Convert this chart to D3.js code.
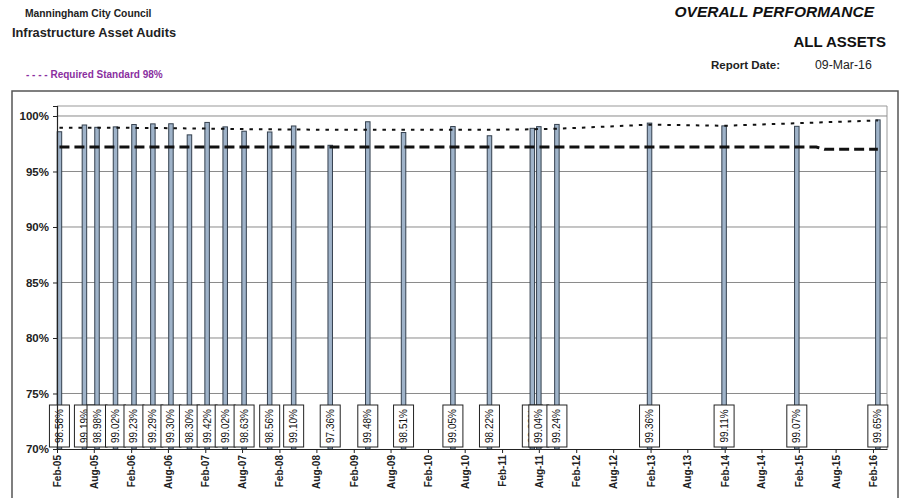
<!DOCTYPE html>
<html>
<head>
<meta charset="utf-8">
<script src="https://cdn.jsdelivr.net/npm/d3@7"></script>
<style>
  html, body { margin: 0; padding: 0; background: #fff; }
  svg { display: block; font-family: "Liberation Sans", Arial, sans-serif; }
</style>
</head>
<body>
<svg id="chart" width="903" height="498"></svg>
<script>
// Audit dates and overall condition score (%) for each audit
const auditDates = [
  "2005-02-13", "2005-06-16", "2005-08-17", "2005-11-16", "2006-02-15",
  "2006-05-19", "2006-08-16", "2006-11-15", "2007-02-10", "2007-05-10",
  "2007-08-11", "2007-12-15", "2008-04-11", "2008-10-08", "2009-04-11",
  "2009-10-04", "2010-06-04", "2010-12-01", "2011-06-30", "2011-08-01",
  "2011-10-29", "2013-01-27", "2014-01-29", "2015-01-22", "2016-02-25"
];
const auditScores = [
  98.58, 99.19, 98.98, 99.02, 99.23,
  99.29, 99.30, 98.30, 99.42, 99.02,
  98.63, 98.56, 99.10, 97.36, 99.48,
  98.51, 99.05, 98.22, 98.89, 99.04,
  99.24, 99.36, 99.11, 99.07, 99.65
];
// Dotted trend line, one value per audit
const trendValues = [
  98.95, 98.95, 98.95, 98.95, 98.93,
  98.92, 98.90, 98.88, 98.86, 98.84,
  98.82, 98.80, 98.78, 98.76, 98.75,
  98.75, 98.75, 98.76, 98.80, 98.82,
  98.85, 99.22, 99.12, 99.35, 99.60
];
// Heavy dashed reference line
const refDates = ["2005-02-13", "2015-04-28", "2015-06-07", "2016-02-25"];
const refValues = [97.2, 97.2, 97.0, 97.0];

// Axis tick labels
const xTickLabels = [
  "Feb-05", "Aug-05", "Feb-06", "Aug-06", "Feb-07", "Aug-07", "Feb-08", "Aug-08",
  "Feb-09", "Aug-09", "Feb-10", "Aug-10", "Feb-11", "Aug-11", "Feb-12", "Aug-12",
  "Feb-13", "Aug-13", "Feb-14", "Aug-14", "Feb-15", "Aug-15", "Feb-16"
];
const yTicks = [70, 75, 80, 85, 90, 95, 100];

const parseDay = d3.timeParse("%Y-%m-%d");
const parseTick = d3.timeParse("%b-%y");

const audits = auditDates.map((d, i) => ({ date: parseDay(d), value: auditScores[i], trend: trendValues[i] }));
const refLine = refDates.map((d, i) => ({ date: parseDay(d), value: refValues[i] }));
const xTickDates = xTickLabels.map(parseTick);

const svg = d3.select("#chart");

// Outer frame
svg.append("rect")
  .attr("x", 12).attr("y", 91).attr("width", 886).attr("height", 430)
  .attr("fill", "none").attr("stroke", "#555").attr("stroke-width", 1.5);

// Header text
svg.append("text").attr("x", 25).attr("y", 17)
  .attr("font-size", 10.3).attr("font-weight", "bold").attr("fill", "#222")
  .text("Manningham City Council");
svg.append("text").attr("x", 12).attr("y", 37)
  .attr("font-size", 12.8).attr("font-weight", "bold").attr("fill", "#222")
  .text("Infrastructure Asset Audits");
svg.append("text").attr("x", 874).attr("y", 17).attr("text-anchor", "end")
  .attr("font-size", 15.5).attr("font-weight", "bold").attr("font-style", "italic").attr("fill", "#111")
  .text("OVERALL PERFORMANCE");
svg.append("text").attr("x", 886).attr("y", 47).attr("text-anchor", "end")
  .attr("font-size", 15).attr("font-weight", "bold").attr("fill", "#111")
  .text("ALL ASSETS");
svg.append("text").attr("x", 780).attr("y", 69).attr("text-anchor", "end")
  .attr("font-size", 11.5).attr("font-weight", "bold").attr("fill", "#222")
  .text("Report Date:");
svg.append("text").attr("x", 815).attr("y", 69)
  .attr("font-size", 12.3).attr("fill", "#222")
  .text("09-Mar-16");

// Legend
svg.append("text").attr("x", 26).attr("y", 78)
  .attr("font-size", 10).attr("font-weight", "bold").attr("fill", "#8a2fa0")
  .text("- - - - Required Standard 98%");

// Scales
const x = d3.scaleTime()
  .domain([parseDay("2005-02-01"), parseDay("2016-04-10")])
  .range([57, 887]);
const y = d3.scaleLinear()
  .domain([70, 100.9])
  .range([449, 106]);

const plot = svg.append("g");

// Plot area border (top / right)
plot.append("path")
  .attr("d", `M${x.range()[0]},${y(100.9)}H${x.range()[1]}V${y(70)}`)
  .attr("fill", "none").attr("stroke", "#999").attr("stroke-width", 1);

// Horizontal gridlines
plot.selectAll("line.grid").data(yTicks.filter(t => t > 70)).join("line")
  .attr("class", "grid")
  .attr("x1", x.range()[0]).attr("x2", x.range()[1])
  .attr("y1", d => y(d)).attr("y2", d => y(d))
  .attr("stroke", "#8a8a8a").attr("stroke-width", 1);

// Bars
const barW = 4.5;
plot.selectAll("rect.bar").data(audits).join("rect")
  .attr("class", "bar")
  .attr("x", d => x(d.date) - barW / 2)
  .attr("y", d => y(d.value))
  .attr("width", barW)
  .attr("height", d => y(70) - y(d.value))
  .attr("fill", "#9fb3c9").attr("stroke", "#34404e").attr("stroke-width", 1);

// Dotted trend line
plot.append("path")
  .datum(audits)
  .attr("d", d3.line().x(d => x(d.date)).y(d => y(d.trend)))
  .attr("fill", "none").attr("stroke", "#111").attr("stroke-width", 2)
  .attr("stroke-dasharray", "3.5,6");

// Heavy dashed reference line
plot.append("path")
  .datum(refLine)
  .attr("d", d3.line().x(d => x(d.date)).y(d => y(d.value)))
  .attr("fill", "none").attr("stroke", "#111").attr("stroke-width", 3)
  .attr("stroke-dasharray", "10,5");

// Value labels at the base of each bar
const fmt = d3.format(".2f");
const boxW = 20, boxH = 42;
const labels = plot.selectAll("g.lbl").data(audits).join("g")
  .attr("class", "lbl")
  .attr("transform", d => `translate(${x(d.date)},${y(70) - 2 - boxH / 2})`);
labels.append("rect")
  .attr("x", -boxW / 2).attr("y", -boxH / 2)
  .attr("width", boxW).attr("height", boxH)
  .attr("fill", "#fff").attr("stroke", "#222").attr("stroke-width", 1);
labels.append("text")
  .attr("transform", "rotate(-90)")
  .attr("text-anchor", "middle").attr("dy", "0.35em")
  .attr("font-size", 10).attr("fill", "#111")
  .text(d => fmt(d.value) + "%");

// Axes
const yAxis = d3.axisLeft(y).tickValues(yTicks).tickFormat(d => d + "%").tickSize(4).tickPadding(4);
const gy = svg.append("g").attr("transform", `translate(${x.range()[0]},0)`).call(yAxis);
gy.select(".domain").attr("stroke", "#222").attr("stroke-width", 1.2);
gy.selectAll(".tick line").attr("stroke", "#222");
gy.selectAll(".tick text")
  .attr("font-family", "Liberation Sans, Arial, sans-serif")
  .attr("font-size", 11.5).attr("font-weight", "bold").attr("fill", "#222");

const xAxis = d3.axisBottom(x).tickValues(xTickDates).tickFormat((d, i) => xTickLabels[i]).tickSize(4).tickSizeOuter(0);
const gx = svg.append("g").attr("transform", `translate(0,${y(70)})`).call(xAxis);
gx.select(".domain").attr("stroke", "#222").attr("stroke-width", 1.2);
gx.selectAll(".tick line").attr("stroke", "#222");
gx.selectAll(".tick text")
  .attr("font-family", "Liberation Sans, Arial, sans-serif")
  .attr("font-size", 10).attr("font-weight", "bold").attr("fill", "#222")
  .attr("transform", "rotate(-90)")
  .attr("text-anchor", "end")
  .attr("x", -6).attr("y", 0).attr("dy", "0.35em");
</script>
</body>
</html>
